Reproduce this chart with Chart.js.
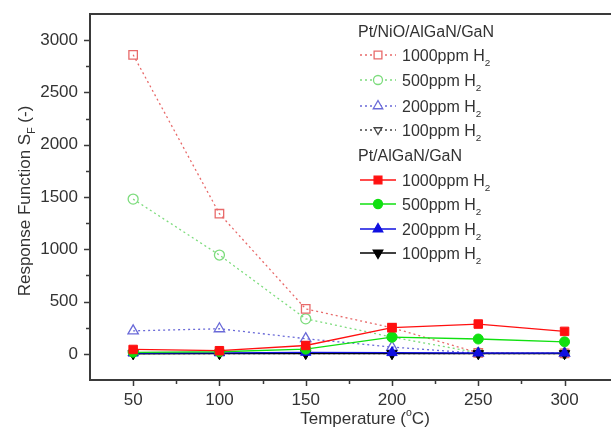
<!DOCTYPE html>
<html>
<head>
<meta charset="utf-8">
<script src="https://cdn.jsdelivr.net/npm/chart.js@4.4.0/dist/chart.umd.min.js"></script>
<style>
  html, body { margin: 0; padding: 0; background: #fff; overflow: hidden; }
  /* the source figure is cropped on the right, so the canvas runs a little past the window */
  #wrap { width: 615px; height: 432px; position: relative; }
</style>
</head>
<body>
<div id="wrap"><canvas id="chart1"></canvas></div>
<script>
// temperatures (°C)
const temps = [50, 100, 150, 200, 250, 300];

// Pt/NiO/AlGaN/GaN (open symbols, dotted)
const nio1000 = [2860, 1340, 430, 250, 10, 5];
const nio500 = [1480, 945, 335, 160, 10, 5];
const nio200 = [220, 240, 145, 65, 5, 5];
const nio100 = [2, 3, 3, 2, 2, 2];

// Pt/AlGaN/GaN (filled symbols, solid)
const pt1000 = [42, 30, 80, 250, 285, 215];
const pt500 = [15, 20, 45, 160, 142, 115];
const pt200 = [8, 10, 15, 12, 8, 8];
const pt100 = [1, 2, 3, 2, 2, 2];

const legendRows = ['1000ppm H', '500ppm H', '200ppm H', '100ppm H'];
const groupNames = ['Pt/NiO/AlGaN/GaN', 'Pt/AlGaN/GaN'];

const FONT = '"Liberation Sans", Arial, sans-serif';

function pts(vals) {
  return vals.map((v, i) => ({ x: temps[i], y: v }));
}

function openSet(vals, color, style, rot, r) {
  return {
    data: pts(vals), borderColor: color, backgroundColor: 'rgba(255,255,255,0)',
    borderWidth: 1.3, borderDash: [2, 3], pointStyle: style, pointRotation: rot,
    pointRadius: r, pointBorderWidth: 1.3, pointBackgroundColor: 'rgba(255,255,255,0)',
    pointBorderColor: color, order: 2
  };
}
function fillSet(vals, color, style, rot, r) {
  return {
    data: pts(vals), borderColor: color, backgroundColor: color,
    borderWidth: 1.3, pointStyle: style, pointRotation: rot,
    pointRadius: r, pointBorderWidth: 1, pointBackgroundColor: color,
    pointBorderColor: color, order: 1
  };
}

const openSets = [
  openSet(nio1000, '#e86a6a', 'rect', 0, 6),
  openSet(nio500, '#7ddc7d', 'circle', 0, 5),
  openSet(nio200, '#6a6ad8', 'triangle', 0, 6),
  openSet(nio100, '#444444', 'triangle', 180, 5)
];
const fillSets = [
  fillSet(pt1000, '#ff1010', 'rect', 0, 6),
  fillSet(pt500, '#10e010', 'circle', 0, 5),
  fillSet(pt200, '#1010e0', 'triangle', 0, 6),
  fillSet(pt100, '#000000', 'triangle', 180, 6)
];

// text with sub/superscript pieces: [[text, kind], ...]
function richText(ctx, parts, x, y, size, align) {
  let w = 0;
  parts.forEach(p => {
    ctx.font = (p[1] ? size * 0.62 : size) + 'px ' + FONT;
    w += ctx.measureText(p[0]).width;
  });
  let cx = align === 'center' ? x - w / 2 : x;
  ctx.textAlign = 'left';
  ctx.textBaseline = 'alphabetic';
  parts.forEach(p => {
    const s = p[1] ? size * 0.62 : size;
    ctx.font = s + 'px ' + FONT;
    let dy = 0;
    if (p[1] === 'sub') dy = size * 0.3;
    if (p[1] === 'sup') dy = -size * 0.45;
    ctx.fillText(p[0], cx, y + dy);
    cx += ctx.measureText(p[0]).width;
  });
}

const decor = {
  id: 'decor',
  afterDraw(chart) {
    const ctx = chart.ctx;
    const a = chart.chartArea;
    const xs = chart.scales.x, ys = chart.scales.y;
    ctx.save();
    // frame (left, bottom, top; right side runs off the picture)
    ctx.strokeStyle = '#3a3a3a';
    ctx.lineWidth = 2;
    ctx.beginPath();
    ctx.moveTo(chart.width, a.top); ctx.lineTo(a.left, a.top);
    ctx.lineTo(a.left, a.bottom); ctx.lineTo(chart.width, a.bottom);
    ctx.stroke();
    // ticks
    ctx.lineWidth = 1.5;
    ctx.beginPath();
    for (let v = 0; v <= 3000; v += 250) {
      const py = Math.round(ys.getPixelForValue(v)) + 0.5;
      const len = v % 500 === 0 ? 6 : 4;
      ctx.moveTo(a.left - len, py); ctx.lineTo(a.left, py);
    }
    for (let v = 50; v <= 300; v += 25) {
      const px = Math.round(xs.getPixelForValue(v)) + 0.5;
      const len = v % 50 === 0 ? 6 : 4;
      ctx.moveTo(px, a.bottom); ctx.lineTo(px, a.bottom + len);
    }
    ctx.stroke();

    // axis titles
    ctx.fillStyle = '#333';
    richText(ctx, [['Temperature ('], ['o', 'sup'], ['C)']], 365, 424, 17, 'center');
    ctx.save();
    ctx.translate(30, (a.top + a.bottom) / 2 + 4);
    ctx.rotate(-Math.PI / 2);
    richText(ctx, [['Response Function S'], ['F', 'sub'], [' (-)']], 0, 0, 17, 'center');
    ctx.restore();

    // legend
    const lx = 358, tx = 402;
    const rowsY = [[33, 55, 80, 106, 130], [157, 180, 204, 229, 253]];
    [openSets, fillSets].forEach((sets, g) => {
      const ys0 = rowsY[g];
      ctx.fillStyle = '#333';
      ctx.font = '16px ' + FONT;
      ctx.textAlign = 'left';
      ctx.textBaseline = 'middle';
      ctx.fillText(groupNames[g], lx, ys0[0]);
      sets.forEach((ds, i) => {
        const yy = ys0[i + 1];
        ctx.save();
        ctx.strokeStyle = ds.borderColor;
        ctx.lineWidth = 1.3;
        ctx.setLineDash(ds.borderDash || []);
        ctx.beginPath();
        ctx.moveTo(lx + 2, yy); ctx.lineTo(lx + 38, yy);
        ctx.stroke();
        ctx.setLineDash([]);
        ctx.fillStyle = g === 0 ? '#fff' : ds.borderColor;
        ctx.strokeStyle = ds.borderColor;
        ctx.lineWidth = 1.3;
        Chart.helpers.drawPoint(ctx, {
          pointStyle: ds.pointStyle, radius: ds.pointRadius - 0.5,
          rotation: ds.pointRotation, borderWidth: 1.3
        }, lx + 20, yy);
        ctx.restore();
        ctx.fillStyle = '#333';
        richText(ctx, [[legendRows[i]], ['2', 'sub']], tx, yy + 6, 16, 'left');
      });
    });
    ctx.restore();
  }
};

const ctx = document.getElementById('chart1').getContext('2d');
new Chart(ctx, {
  type: 'line',
  data: { datasets: fillSets.concat(openSets) },
  options: {
    responsive: true,
    maintainAspectRatio: false,
    animation: false,
    layout: { padding: { top: 14, right: 0, left: 0, bottom: 0 } },
    plugins: {
      legend: { display: false },
      tooltip: { enabled: false }
    },
    hover: false,
    scales: {
      x: {
        type: 'linear', min: 25, max: 325,
        grid: { display: false, drawTicks: false },
        border: { display: false },
        ticks: {
          stepSize: 25, padding: 10, color: '#333',
          font: { size: 17, family: FONT },
          maxRotation: 0, autoSkip: false,
          callback: v => (v % 50 === 0 && v >= 50 && v <= 300) ? String(v) : ''
        },
        afterFit: s => { s.height = 52; s.paddingLeft = 0; s.paddingRight = 0; }
      },
      y: {
        type: 'linear', min: -250, max: 3250,
        grid: { display: false, drawTicks: false },
        border: { display: false },
        ticks: {
          stepSize: 250, padding: 12, color: '#333',
          font: { size: 17, family: FONT },
          autoSkip: false,
          callback: v => (v % 500 === 0 && v >= 0 && v <= 3000) ? String(v) : ''
        },
        afterFit: s => { s.width = 90; s.paddingTop = 0; s.paddingBottom = 0; }
      }
    }
  },
  plugins: [decor]
});
</script>
</body>
</html>
